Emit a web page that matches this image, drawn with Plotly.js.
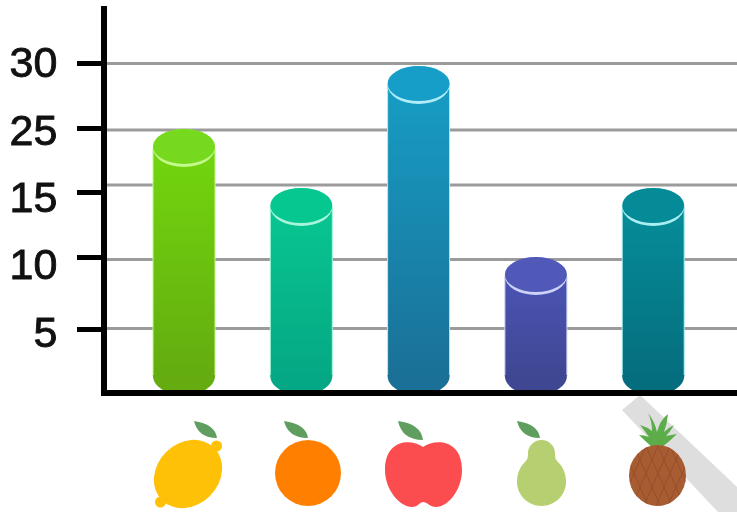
<!DOCTYPE html>
<html><head><meta charset="utf-8">
<script src="https://cdn.plot.ly/plotly-3.0.1.min.js"></script>
<style>html,body{margin:0;padding:0;background:#fff}#chart{width:737px;height:512px;filter:blur(0.45px)}</style>
</head><body><div id="chart"></div>
<script>
// Data (values are positions on the drawn axis, whose labels skip 20)
const fruits = ['Lemon', 'Orange', 'Apple', 'Pear', 'Pineapple'];
const values = [18.85, 14.31, 23.69, 9.0, 14.31];
const tickValues = [4.92, 10.46, 15.46, 20.38, 25.38];
const tickLabels = ['5', '10', '15', '25', '30'];
const labelNudge = {'5': 3, '10': 7, '15': 5, '25': 2, '30': -1};
const gridValues = [4.96, 10.27, 16.0, 20.23, 25.35];
const capColors = ['#76d91e', '#06c790', '#169ec8', '#5058b8', '#058b97'];
const bodyTop = ['#72d60e', '#08c691', '#179dc4', '#4b54b4', '#068d99'];
const bodyBottom = ['#64ac10', '#05a884', '#1a7097', '#3f4793', '#056e7e'];
const rimColors = ['#c4f98c', '#a6f5da', '#b0edf8', '#cdd2f7', '#a9eef2'];

const W = 737, H = 512, L = 107, B = 390, T = 6;
const plotW = W - L, plotH = B - T;
const px2x = p => (p - L) / plotW;
const px2y = p => (B - p) / plotH;
const unitY = 13, unitX = 117.3, originX = 184;
const baseV = 1.3;
const halfW = 31 / unitX, halfH = 19 / unitY;

const shapes = [];
gridValues.forEach(v => shapes.push({type: 'line', layer: 'below', xref: 'paper', yref: 'y', x0: 0, x1: 1, y0: v, y1: v, line: {color: '#9b9b9b', width: 3}}));
const wm = [[622,410],[640,395],[737,487],[737,512],[718,512]];
shapes.push({type: 'path', layer: 'below', xref: 'paper', yref: 'paper', fillcolor: '#dedede', line: {width: 0},
  path: 'M' + wm.map(p => px2x(p[0]) + ',' + px2y(p[1])).join('L') + 'Z'});
values.forEach((v, i) => {
  const cx = px2x(originX + i * unitX), hw = 31 / plotW, k = 0.5523;
  const top = baseV + 0.08, low = baseV - halfH;
  shapes.push({type: 'path', layer: 'above', xref: 'paper', yref: 'y', fillcolor: bodyBottom[i], line: {width: 0},
    path: `M${cx - hw},${top} L${cx - hw},${baseV} C${cx - hw},${baseV - k * halfH} ${cx - k * hw},${low} ${cx},${low} C${cx + k * hw},${low} ${cx + hw},${baseV - k * halfH} ${cx + hw},${baseV} L${cx + hw},${top} Z`});
  shapes.push({type: 'circle', layer: 'above', xref: 'x', yref: 'y', x0: i - halfW, x1: i + halfW, y0: v - halfH, y1: v + halfH, fillcolor: rimColors[i], line: {width: 0}});
  shapes.push({type: 'circle', layer: 'above', xref: 'x', yref: 'y', x0: i - halfW, x1: i + halfW, y0: v - halfH + 3 / unitY, y1: v + halfH, fillcolor: capColors[i], line: {width: 0}});
});

const leaf = (x0, y0, x1, y1) => `<path fill="#5f9e5f" d="M${x0} ${y0}Q${x1 - 2} ${y0 + 3} ${x1} ${y1}Q${x0 + 4} ${y1} ${x0} ${y0}Z"/>`;
const hatch = [];
for (let k = 0; k < 7; k++) {
  hatch.push(`M${622 + k * 12} 446L${650 + k * 12} 510`);
  hatch.push(`M${694 - k * 12} 446L${666 - k * 12} 510`);
}
const icons = [
  {box: [150, 418, 76, 94], art: leaf(194, 421, 217, 438) +
    '<g fill="#ffc107"><ellipse cx="188" cy="474" rx="37" ry="31" transform="rotate(-45 188 474)"/><circle cx="216.500" cy="446" r="5.500"/><circle cx="160.500" cy="502" r="5.500"/></g>'},
  {box: [270, 418, 76, 94], art: leaf(284, 421, 308, 438) + '<circle cx="308" cy="473" r="33" fill="#ff8000"/>'},
  {box: [380, 418, 88, 94], art: leaf(398, 421, 423, 440) +
    '<path fill="#fb4d50" d="M423 447C410 438 385 440 385 470C385 490 400 507 412 507C418 507 420 502 423 502C427 502 430 507 436 507C448 507 462 490 462 470C462 440 436 438 423 447Z"/>'},
  {box: [512, 418, 60, 94], art: leaf(517, 421, 540, 438) +
    '<path fill="#b6cf70" d="M541.500 440C549 440 555 446 555 453C555 459 556 460 559 463C563 467 566 474 566 482C566 495 555 506 541.500 506C528 506 517 495 517 482C517 474 520 467 524 463C527 460 528 459 528 453C528 446 534 440 541.500 440Z"/>'},
  {box: [624, 410, 68, 100], art:
    '<path fill="#5cad4a" d="M648 413Q655 422 657 432Q660 420 668 414Q667 424 664 432Q668 428 674 425Q670 432 666 436Q671 435 677 434Q670 441 662 447L652 447Q645 441 639 435Q644 435 649 437Q645 431 640 425Q647 427 652 431Q652 421 648 413Z"/>' +
    '<defs><clipPath id="pb"><ellipse cx="657.5" cy="475.5" rx="28.5" ry="30.5"/></clipPath></defs>' +
    '<ellipse cx="657.5" cy="475.5" rx="28.5" ry="30.5" fill="#a85c32"/>' +
    `<path clip-path="url(#pb)" d="${hatch.join('')}" stroke="#96502c" stroke-width="1" fill="none"/>`}
];
const images = icons.map(ic => {
  const [x, y, w, h] = ic.box;
  const svg = `<svg xmlns="http://www.w3.org/2000/svg" width="${w * 2}" height="${h * 2}" viewBox="${x} ${y} ${w} ${h}">${ic.art}</svg>`;
  return {source: 'data:image/svg+xml;charset=utf-8,' + encodeURIComponent(svg), xref: 'paper', yref: 'paper',
    x: px2x(x), y: px2y(y), sizex: w / plotW, sizey: h / plotH, xanchor: 'left', yanchor: 'top', sizing: 'stretch', layer: 'above'};
});

const trace = {
  type: 'bar', x: fruits, y: values.map(v => v - baseV), base: values.map(() => baseV), width: 62 / unitX,
  marker: {color: bodyTop, line: {color: rimColors, width: 1}}, hoverinfo: 'skip'
};
const layout = {
  width: W, height: H, showlegend: false, paper_bgcolor: '#fff', plot_bgcolor: 'rgba(0,0,0,0)',
  margin: {l: L, r: 0, t: T, b: H - B, pad: 0},
  xaxis: {type: 'category', categoryorder: 'array', categoryarray: fruits, range: [(L - originX) / unitX, (W - originX) / unitX],
    showticklabels: false, ticks: '', showgrid: false, zeroline: false, showline: true, linecolor: '#000', linewidth: 6, fixedrange: true},
  yaxis: {range: [(393 - B) / unitY, (393 - T) / unitY], tickmode: 'array', tickvals: tickValues, ticktext: tickLabels,
    ticks: 'outside', ticklen: 24, tickwidth: 5, tickcolor: '#000', ticklabelstandoff: 11,
    tickfont: {family: '"Liberation Sans", Arial, sans-serif', size: 43, color: '#111'},
    showgrid: false, zeroline: false, showline: true, linecolor: '#000', linewidth: 6, automargin: false, fixedrange: true},
  shapes, images
};
Plotly.newPlot('chart', [trace], layout, {displayModeBar: false, staticPlot: true}).then(gd => {
  const svg = gd.querySelector('svg.main-svg');
  let defs = svg.querySelector('defs');
  const NS = 'http://www.w3.org/2000/svg';
  gd.querySelectorAll('.trace.bars .point path').forEach((p, i) => {
    const g = document.createElementNS(NS, 'linearGradient');
    g.setAttribute('id', 'cyl' + i);
    g.setAttribute('x1', '0'); g.setAttribute('y1', '0'); g.setAttribute('x2', '0'); g.setAttribute('y2', '1');
    [[0, bodyTop[i]], [1, bodyBottom[i]]].forEach(([o, c]) => {
      const s = document.createElementNS(NS, 'stop');
      s.setAttribute('offset', o); s.setAttribute('stop-color', c); g.appendChild(s);
    });
    defs.appendChild(g);
    p.style.fill = `url(#cyl${i})`;
  });
  gd.querySelectorAll('.ytick text').forEach(t => {
    const n = labelNudge[t.textContent] || 0;
    t.setAttribute('y', parseFloat(t.getAttribute('y')) + n);
    t.style.stroke = '#111';
    t.style.strokeWidth = '0.9px';
  });
});
</script></body></html>
